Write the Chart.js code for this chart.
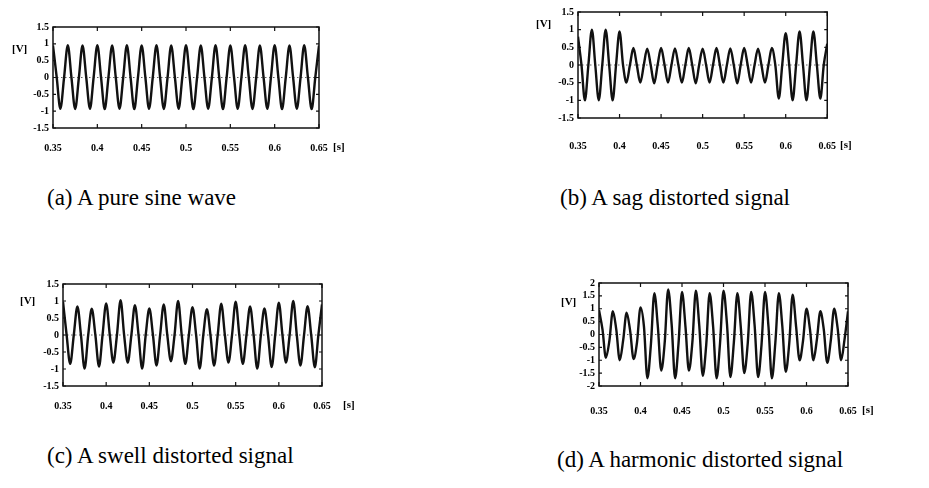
<!DOCTYPE html>
<html>
<head>
<meta charset="utf-8">
<script src="https://cdn.jsdelivr.net/npm/chart.js@4.4.0/dist/chart.umd.min.js"></script>
<style>
  body { margin: 0; width: 929px; height: 488px; background: #fff; position: relative; overflow: hidden; }
  canvas { position: absolute; }
  .cap { position: absolute; font-family: "Liberation Serif", serif; font-size: 23px; line-height: 23px; color: #000; white-space: nowrap; }
  .unit { position: absolute; font-family: "Liberation Serif", serif; font-size: 11px; font-weight: bold; line-height: 11px; color: #000; }
</style>
</head>
<body>
<canvas id="chartA" width="341" height="151" style="left:8px;top:17px"></canvas>
<canvas id="chartB" width="325" height="156" style="left:533px;top:2px"></canvas>
<canvas id="chartC" width="334" height="152" style="left:18px;top:274px"></canvas>
<canvas id="chartD" width="324" height="153" style="left:554px;top:273px"></canvas>

<span class="unit" style="left:12px;top:43px">[V]</span>
<span class="unit" style="left:536px;top:18px">[V]</span>
<span class="unit" style="left:20px;top:295px">[V]</span>
<span class="unit" style="left:561px;top:296px">[V]</span>
<span class="unit" style="left:333px;top:141px">[s]</span>
<span class="unit" style="left:840px;top:139px">[s]</span>
<span class="unit" style="left:343px;top:399px">[s]</span>
<span class="unit" style="left:862px;top:404px">[s]</span>

<div class="cap" style="left:47px;top:186px">(a) A pure sine wave</div>
<div class="cap" style="left:560px;top:186px">(b) A sag distorted signal</div>
<div class="cap" style="left:47px;top:444px">(c) A swell distorted signal</div>
<div class="cap" style="left:557px;top:448px">(d) A harmonic distorted signal</div>

<script>
// sample instants [s], a quarter of a 60 Hz cycle apart
const times = [
  0.3500, 0.3542, 0.3583, 0.3625, 0.3667, 0.3708, 0.3750, 0.3792, 0.3833, 0.3875, 0.3917, 0.3958,
  0.4000, 0.4042, 0.4083, 0.4125, 0.4167, 0.4208, 0.4250, 0.4292, 0.4333, 0.4375, 0.4417, 0.4458,
  0.4500, 0.4542, 0.4583, 0.4625, 0.4667, 0.4708, 0.4750, 0.4792, 0.4833, 0.4875, 0.4917, 0.4958,
  0.5000, 0.5042, 0.5083, 0.5125, 0.5167, 0.5208, 0.5250, 0.5292, 0.5333, 0.5375, 0.5417, 0.5458,
  0.5500, 0.5542, 0.5583, 0.5625, 0.5667, 0.5708, 0.5750, 0.5792, 0.5833, 0.5875, 0.5917, 0.5958,
  0.6000, 0.6042, 0.6083, 0.6125, 0.6167, 0.6208, 0.6250, 0.6292, 0.6333, 0.6375, 0.6417, 0.6458,
  0.6500
];

const pureWave = [
  0.95, 0, -0.93, 0,  0.96, 0, -0.94, 0,  0.95, 0, -0.93, 0,  0.96, 0, -0.94, 0,
  0.95, 0, -0.93, 0,  0.96, 0, -0.94, 0,  0.95, 0, -0.93, 0,  0.96, 0, -0.94, 0,
  0.95, 0, -0.93, 0,  0.96, 0, -0.94, 0,  0.95, 0, -0.93, 0,  0.96, 0, -0.94, 0,
  0.95, 0, -0.93, 0,  0.96, 0, -0.94, 0,  0.95, 0, -0.93, 0,  0.96, 0, -0.94, 0,
  0.95, 0, -0.93, 0,  0.96, 0, -0.94, 0,
  0.95
];

const sagWave = [
  0.8, 0, -1.0, 0,  1.0, 0, -1.0, 0,  1.0, 0, -1.0, 0,  0.95, 0, -0.5, 0,
  0.48, 0, -0.5, 0,  0.46, 0, -0.52, 0,  0.48, 0, -0.5, 0,  0.47, 0, -0.5, 0,
  0.48, 0, -0.52, 0,  0.46, 0, -0.5, 0,  0.48, 0, -0.5, 0,  0.47, 0, -0.52, 0,
  0.48, 0, -0.5, 0,  0.46, 0, -0.5, 0,  0.48, 0, -0.95, 0,  0.9, 0, -1.0, 0,
  0.95, 0, -1.0, 0,  0.95, 0, -0.95, 0,
  0.6
];

const swellWave = [
  0.98, 0, -0.85, 0,  0.84, 0, -0.99, 0,  0.77, 0, -0.93, 0,  0.93, 0, -0.81, 0,
  1.02, 0, -0.81, 0,  0.88, 0, -0.99, 0,  0.78, 0, -0.9, 0,  0.9, 0, -0.77, 0,
  1.0, 0, -0.85, 0,  0.82, 0, -0.99, 0,  0.76, 0, -0.9, 0,  0.92, 0, -0.81, 0,
  0.98, 0, -0.85, 0,  0.84, 0, -0.99, 0,  0.78, 0, -0.94, 0,  0.95, 0, -0.81, 0,
  1.0, 0, -0.9, 0,  0.85, 0, -0.95, 0,
  0.9
];

const harmonicWave = [
  0.95, 0.2, -0.9, -0.25,  0.9, 0.2, -1.0, -0.2,  0.85, 0.15, -0.95, -0.3,  1.05, 0.3, -1.7, -0.4,
  1.6, 0.35, -1.4, -0.3,  1.75, 0.4, -1.7, -0.35,  1.65, 0.3, -1.4, -0.3,  1.7, 0.35, -1.6, -0.4,
  1.6, 0.3, -1.7, -0.35,  1.7, 0.4, -1.65, -0.3,  1.6, 0.3, -1.5, -0.35,  1.65, 0.35, -1.65, -0.4,
  1.65, 0.3, -1.7, -0.3,  1.6, 0.35, -1.45, -0.35,  1.55, 0.3, -1.0, -0.25,  1.0, 0.2, -1.0, -0.2,
  0.9, 0.2, -1.1, -0.25,  1.0, 0.25, -1.0, -0.2,
  0.9
];

const timeTicks = [0.35, 0.4, 0.45, 0.5, 0.55, 0.6, 0.65];
const voltTicks = [-1.5, -1, -0.5, 0, 0.5, 1, 1.5];
const voltTicksWide = [-2, -1.5, -1, -0.5, 0, 0.5, 1, 1.5, 2];

const tickFont = { family: "Liberation Serif", size: 10, weight: "bold" };

// box, zero line and inward tick marks
const framePlugin = {
  id: "frame",
  beforeDatasetsDraw(chart) {
    const { ctx, chartArea: a, scales: { y } } = chart;
    const y0 = y.getPixelForValue(0);
    ctx.save();
    ctx.setLineDash([1.5, 2.5]);
    ctx.strokeStyle = "#666";
    ctx.lineWidth = 1;
    ctx.beginPath();
    ctx.moveTo(a.left, y0);
    ctx.lineTo(a.right, y0);
    ctx.stroke();
    ctx.restore();
  },
  afterDraw(chart) {
    const { ctx, chartArea: a, scales: { x, y } } = chart;
    ctx.save();
    ctx.strokeStyle = "#111";
    ctx.lineWidth = 1.5;
    ctx.strokeRect(a.left, a.top, a.width, a.height);
    ctx.lineWidth = 1.2;
    ctx.beginPath();
    x.ticks.forEach((t) => {
      const px = x.getPixelForValue(t.value);
      ctx.moveTo(px, a.top); ctx.lineTo(px, a.top + 4);
      ctx.moveTo(px, a.bottom); ctx.lineTo(px, a.bottom - 4);
    });
    y.ticks.forEach((t) => {
      const py = y.getPixelForValue(t.value);
      ctx.moveTo(a.left, py); ctx.lineTo(a.left + 3, py);
      ctx.moveTo(a.right, py); ctx.lineTo(a.right - 3, py);
    });
    ctx.stroke();
    ctx.restore();
  },
};

const fmt = (v) => String(+Number(v).toFixed(2));

function makeChart(id, values, yTicks, xLabelGap) {
  const ctx = document.getElementById(id).getContext("2d");
  return new Chart(ctx, {
    type: "line",
    data: {
      datasets: [
        {
          data: values.map((v, i) => ({ x: times[i], y: v })),
          borderColor: "#111",
          borderWidth: 2.4,
          pointRadius: 0,
          cubicInterpolationMode: "monotone",
        },
      ],
    },
    options: {
      responsive: false,
      animation: false,
      layout: { padding: { top: 8, right: 30, left: 0, bottom: 0 } },
      plugins: { legend: { display: false }, tooltip: { enabled: false } },
      scales: {
        x: {
          type: "linear",
          min: timeTicks[0],
          max: timeTicks[timeTicks.length - 1],
          afterBuildTicks: (s) => { s.ticks = timeTicks.map((v) => ({ value: v })); },
          afterFit: (s) => { s.height = 40; },
          grid: { display: false, drawTicks: false },
          border: { display: false },
          ticks: { color: "#000", font: tickFont, padding: xLabelGap, maxRotation: 0, autoSkip: false, callback: fmt },
        },
        y: {
          min: yTicks[0],
          max: yTicks[yTicks.length - 1],
          afterBuildTicks: (s) => { s.ticks = yTicks.map((v) => ({ value: v })); },
          afterFit: (s) => { s.width = 45; },
          grid: { display: false, drawTicks: false },
          border: { display: false },
          ticks: { color: "#000", font: tickFont, padding: 4, autoSkip: false, callback: fmt },
        },
      },
    },
    plugins: [framePlugin],
  });
}

makeChart("chartA", pureWave, voltTicks, 14);
makeChart("chartB", sagWave, voltTicks, 22);
makeChart("chartC", swellWave, voltTicks, 14);
makeChart("chartD", harmonicWave, voltTicksWide, 19);
</script>
</body>
</html>
